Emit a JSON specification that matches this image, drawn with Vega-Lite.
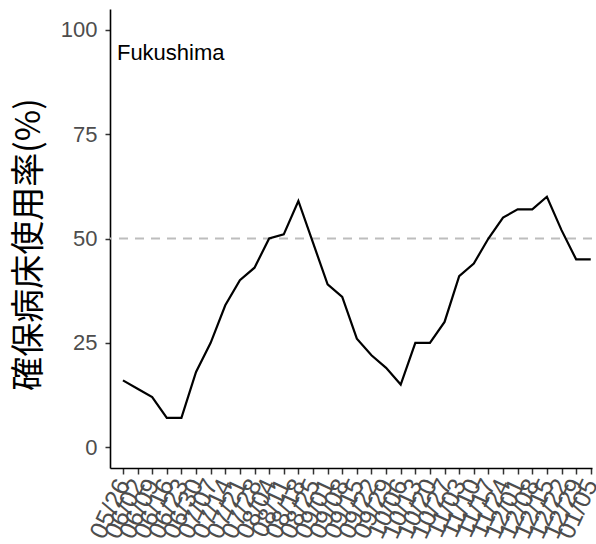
{
  "$schema": "https://vega.github.io/schema/vega-lite/v6.json",
  "autosize": {"type": "none"},
  "padding": {"left": 110, "top": 9, "right": 4, "bottom": 76},
  "width": 482,
  "height": 459,
  "background": "white",
  "config": {
    "view": {"stroke": null},
    "axis": {"grid": false}
  },
  "layer": [
    {
      "data": {"values": [{}]},
      "mark": {"type": "rule", "color": "#bdbdbd", "strokeWidth": 2, "strokeDash": [9, 7]},
      "encoding": {
        "y": {
          "datum": 50,
          "type": "quantitative",
          "scale": {"domain": [-5, 105], "nice": false, "zero": false},
          "axis": {
            "title": "確保病床使用率(%)",
            "titleFont": "Noto Sans CJK JP",
            "titleFontSize": 34,
            "titleFontWeight": "normal",
            "titleColor": "#000000",
            "titleAngle": -90,
            "titleAlign": "center",
            "titleBaseline": "middle",
            "titleX": -81,
            "titleY": 235,
            "values": [0, 25, 50, 75, 100],
            "labelFont": "Liberation Sans",
            "labelFontSize": 22,
            "labelColor": "#4d4d4d",
            "labelPadding": 8,
            "domainColor": "#000000",
            "domainWidth": 1.6,
            "tickColor": "#333333",
            "tickWidth": 1.5,
            "tickSize": 5
          }
        }
      }
    },
    {
      "data": {
        "values": [
          {"date": "2021-05-26", "v": 16},
          {"date": "2021-06-02", "v": 14},
          {"date": "2021-06-09", "v": 12},
          {"date": "2021-06-16", "v": 7},
          {"date": "2021-06-23", "v": 7},
          {"date": "2021-06-30", "v": 18},
          {"date": "2021-07-07", "v": 25},
          {"date": "2021-07-14", "v": 34},
          {"date": "2021-07-21", "v": 40},
          {"date": "2021-07-28", "v": 43},
          {"date": "2021-08-04", "v": 50},
          {"date": "2021-08-11", "v": 51},
          {"date": "2021-08-18", "v": 59},
          {"date": "2021-08-25", "v": 49},
          {"date": "2021-09-01", "v": 39},
          {"date": "2021-09-08", "v": 36},
          {"date": "2021-09-15", "v": 26},
          {"date": "2021-09-22", "v": 22},
          {"date": "2021-09-29", "v": 19},
          {"date": "2021-10-06", "v": 15},
          {"date": "2021-10-13", "v": 25},
          {"date": "2021-10-20", "v": 25},
          {"date": "2021-10-27", "v": 30},
          {"date": "2021-11-03", "v": 41},
          {"date": "2021-11-10", "v": 44},
          {"date": "2021-11-17", "v": 50},
          {"date": "2021-11-24", "v": 55},
          {"date": "2021-12-01", "v": 57},
          {"date": "2021-12-08", "v": 57},
          {"date": "2021-12-15", "v": 60},
          {"date": "2021-12-22", "v": 52},
          {"date": "2021-12-29", "v": 45},
          {"date": "2022-01-05", "v": 45}
        ]
      },
      "encoding": {
        "x": {
          "field": "date",
          "type": "temporal",
          "scale": {"domain": [1621451520000, 1641392640000]},
          "axis": {
            "title": null,
            "labelExpr": "utcFormat(datum.value, '%m/%d')",
            "values": [
              1621987200000, 1622592000000, 1623196800000, 1623801600000, 1624406400000,
              1625011200000, 1625616000000, 1626220800000, 1626825600000, 1627430400000,
              1628035200000, 1628640000000, 1629244800000, 1629849600000, 1630454400000,
              1631059200000, 1631664000000, 1632268800000, 1632873600000, 1633478400000,
              1634083200000, 1634688000000, 1635292800000, 1635897600000, 1636502400000,
              1637107200000, 1637712000000, 1638316800000, 1638921600000, 1639526400000,
              1640131200000, 1640736000000, 1641340800000
            ],
            "labelAngle": -65,
            "labelAlign": "right",
            "labelBaseline": "middle",
            "labelFont": "Liberation Sans",
            "labelFontSize": 25,
            "labelColor": "#4d4d4d",
            "labelOverlap": false,
            "labelFlush": false,
            "labelBound": false,
            "labelPadding": 6,
            "domainColor": "#000000",
            "domainWidth": 1.6,
            "tickColor": "#333333",
            "tickWidth": 1.5,
            "tickSize": 6
          }
        }
      },
      "layer": [
        {
          "mark": {"type": "line", "color": "#000000", "strokeWidth": 2.2},
          "encoding": {
            "y": {"field": "v", "type": "quantitative"}
          }
        },
        {
          "transform": [{"filter": "time(toDate(datum.date)) == 1621987200000"}],
          "mark": {"type": "text", "align": "left", "baseline": "alphabetic", "font": "Liberation Sans", "fontSize": 22, "color": "#000000", "dx": -6},
          "encoding": {
            "y": {"datum": 92.8},
            "text": {"value": "Fukushima"}
          }
        }
      ]
    }
  ]
}
